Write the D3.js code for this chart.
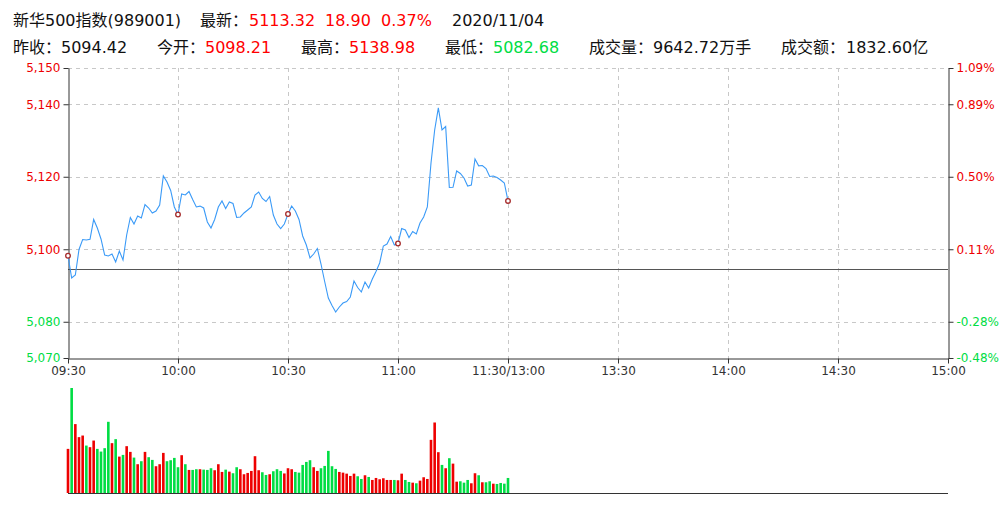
<!DOCTYPE html>
<html><head><meta charset="utf-8">
<script src="https://cdn.jsdelivr.net/npm/d3@7"></script>
<style>
html,body{margin:0;padding:0;background:#fff;}
svg{display:block;font-family:"DejaVu Sans","Noto Sans CJK SC",sans-serif;}
</style></head>
<body><svg id="c" width="1008" height="516"></svg>
<script>
// ---- data ----
const prevClose = 5094.42;
const timeTicks = [0,30,60,90,120,150,180,210,240];
const timeLabels = ["09:30","10:00","10:30","11:00","11:30/13:00","13:30","14:00","14:30","15:00"];
const priceTicks = [5070,5080,5100,5120,5140,5150];
const prices = [
5098.21,5092.07,5092.90,5099.93,5102.69,5102.55,5102.75,5108.21,5105.86,5102.83,
5098.41,5098.14,5098.69,5096.48,5099.52,5097.03,5103.93,5108.76,5106.97,5109.17,
5108.62,5112.34,5111.38,5110.00,5110.55,5112.21,5120.21,5118.55,5116.21,5111.66,
5109.59,5115.24,5114.97,5115.93,5113.72,5111.66,5111.90,5111.38,5107.52,5105.86,
5108.21,5111.66,5113.31,5111.24,5113.03,5112.62,5108.76,5108.90,5110.00,5110.83,
5111.66,5114.97,5115.79,5114.00,5113.17,5114.55,5109.45,5106.97,5105.72,5106.97,
5109.72,5111.93,5110.55,5108.21,5103.66,5101.17,5097.59,5098.69,5100.21,5095.93,
5091.10,5086.55,5084.48,5082.68,5084.07,5085.17,5085.59,5086.83,5091.24,5089.45,
5088.21,5090.97,5089.31,5091.79,5093.86,5096.21,5100.90,5101.45,5103.52,5101.17,
5101.59,5105.72,5105.31,5103.24,5104.90,5104.21,5107.24,5108.90,5111.66,5123.79,
5132.90,5138.98,5132.90,5133.86,5117.03,5117.10,5121.59,5120.90,5119.66,5117.45,
5117.72,5124.90,5123.00,5123.10,5122.28,5120.07,5120.20,5119.79,5119.10,5118.28,
5113.32];
const volumes = [
44,104.7,68.7,55.7,57.3,47.3,45.7,52.3,44,41.3,
44.7,71,49.7,53.7,36.3,38,46.7,41,35.3,28.7,
31.7,41,35.7,33,26.7,28.7,40,31.7,32.7,35,
25.7,37.7,28.7,23,23,23.7,23.7,23.3,23,24.7,
22.7,28.7,21,23.3,21.3,19.7,25.7,23.7,18.7,20,
22,36.7,22.7,20.7,18,18.7,21.7,23.7,22,19.5,
24.7,23.7,21,20.3,28,31,32.7,25.7,22,24.7,
27,42,26.7,24,21,20.3,19.3,17,19.3,16.7,
14,17.7,16,13,15,13.7,14.7,13,13,13,
12.7,19.3,13,11,10.3,9.7,12.3,15.7,14,53,
70.3,40.7,28,24.7,34.7,29.3,11.3,11.7,10.3,13,
9.7,19.7,17.7,10.7,10.7,11.7,9.3,9,10,9.3,
15];
const header1 = [
  {x:13, t:"新华500指数(989001)", c:"#111"},
  {x:200, t:"最新：", c:"#111"},
  {x:249, t:"5113.32", c:"#f00"},
  {x:325, t:"18.90", c:"#f00"},
  {x:381, t:"0.37%", c:"#f00"},
  {x:452, t:"2020/11/04", c:"#111"}
];
const header2 = [
  {x:13, t:"昨收：", c:"#111"},
  {x:61, t:"5094.42", c:"#111"},
  {x:157, t:"今开：", c:"#111"},
  {x:205, t:"5098.21", c:"#f00"},
  {x:301, t:"最高：", c:"#111"},
  {x:349, t:"5138.98", c:"#f00"},
  {x:445, t:"最低：", c:"#111"},
  {x:493, t:"5082.68", c:"#00dd44"},
  {x:589, t:"成交量：", c:"#111"},
  {x:653, t:"9642.72万手", c:"#111"},
  {x:781, t:"成交额：", c:"#111"},
  {x:846, t:"1832.60亿", c:"#111"}
];

// ---- layout ----
const RED = "#ee0000", GREEN = "#00dd44";
const L = 68, R = 948, T = 68, B = 358;
const VT = 388, VB = 493;
const svg = d3.select("#c");

const x = d3.scaleLinear().domain([0,240]).range([L,R]);
const y = d3.scaleLinear().domain([5070,5150]).range([B,T]);
const yv = d3.scaleLinear().domain([0, d3.max(volumes)]).range([VB,VT]);

// header
svg.append("g").selectAll("text").data(header1).join("text")
  .attr("x", d=>d.x).attr("y", 26).attr("font-size", 16).attr("fill", d=>d.c).text(d=>d.t);
svg.append("g").selectAll("text").data(header2).join("text")
  .attr("x", d=>d.x).attr("y", 52.5).attr("font-size", 16).attr("fill", d=>d.c).text(d=>d.t);

// grid
const grid = svg.append("g").attr("stroke","#c8c8c8").attr("stroke-dasharray","4,4").attr("stroke-width",1);
grid.selectAll("line.h").data(priceTicks.filter(v=>v>5070)).join("line")
  .attr("x1",L).attr("x2",R).attr("y1",d=>Math.round(y(d))+0.5).attr("y2",d=>Math.round(y(d))+0.5);
grid.selectAll("line.v").data(timeTicks.filter(v=>v>0&&v<240)).join("line")
  .attr("y1",T).attr("y2",B).attr("x1",d=>Math.round(x(d))+0.5).attr("x2",d=>Math.round(x(d))+0.5);

// prev close line
svg.append("line").attr("x1",L).attr("x2",R)
  .attr("y1",Math.round(y(prevClose))+0.5).attr("y2",Math.round(y(prevClose))+0.5)
  .attr("stroke","#555").attr("stroke-width",1);

// axes
const colorFor = v => v >= prevClose ? RED : GREEN;
const la = svg.append("g").attr("transform",`translate(${L+0.5},0)`)
  .call(d3.axisLeft(y).tickValues(priceTicks).tickSize(5).tickSizeOuter(0).tickPadding(3).tickFormat(d3.format(",")));
la.selectAll("text").attr("fill", d=>colorFor(d));
const ra = svg.append("g").attr("transform",`translate(${R+0.5},0)`)
  .call(d3.axisRight(y).tickValues(priceTicks).tickSize(5).tickSizeOuter(0).tickPadding(3)
    .tickFormat(d => ((d-prevClose)/prevClose*100).toFixed(2)+"%"));
ra.selectAll("text").attr("fill", d=>colorFor(d));
const ba = svg.append("g").attr("transform",`translate(0,${B+0.5})`)
  .call(d3.axisBottom(x).tickValues(timeTicks).tickSize(5).tickSizeOuter(0).tickPadding(3)
    .tickFormat((d,i)=>timeLabels[i]));
ba.selectAll("text").attr("fill","#333");
[la,ra,ba].forEach(g=>{
  g.attr("font-family",null).attr("font-size",12);
  g.selectAll("path,line").attr("stroke","#333");
});

// price line
svg.append("path").datum(prices)
  .attr("fill","none").attr("stroke","#3a9af7").attr("stroke-width",1.1)
  .attr("d", d3.line().x((d,i)=>x(i)).y(d=>y(d)));

// markers
svg.append("g").selectAll("circle").data(prices.map((v,i)=>({v,i})).filter(d=>d.i%30===0)).join("circle")
  .attr("cx",d=>x(d.i)).attr("cy",d=>y(d.v)).attr("r",2.3)
  .attr("fill","#fff").attr("stroke","#a52a2a").attr("stroke-width",1.3);

// volume bars
const bw = 2.6;
svg.append("g").selectAll("rect").data(volumes).join("rect")
  .attr("x",(d,i)=>x(i)-bw/2).attr("width",bw)
  .attr("y",d=>yv(d)).attr("height",d=>VB-yv(d))
  .attr("fill",(d,i)=>{const p = i===0?prevClose:prices[i-1]; return prices[i]>=p?RED:GREEN;});
svg.append("line").attr("x1",L).attr("x2",R).attr("y1",VB+0.5).attr("y2",VB+0.5)
  .attr("stroke","#333").attr("stroke-width",1);
</script></body></html>
